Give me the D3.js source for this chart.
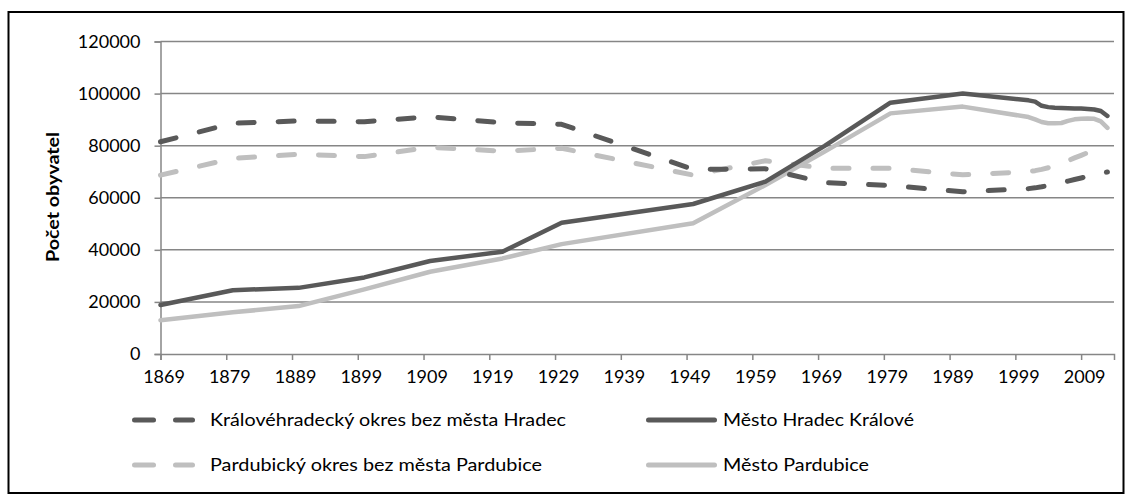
<!DOCTYPE html>
<html><head><meta charset="utf-8">
<script src="https://cdn.jsdelivr.net/npm/d3@7"></script>
<style>
html,body{margin:0;padding:0;background:#fff;}
svg{display:block;font-family:Lato,"Open Sans",sans-serif;}
</style></head>
<body><svg id="chart" width="1132" height="500"></svg>
<script>
// ---- data ----
const years = [1869,1880,1890,1900,1910,1921,1930,1950,1961,1970,1980,1991,2001,2002,2003,2004,2005,2006,2007,2008,2009,2010,2011,2012,2013];
const khOkres = [81500,88600,89500,89200,91100,88800,88200,70900,71100,65800,64700,62300,63500,63800,64200,64700,65200,65800,66400,67000,67600,68200,68800,69400,69900];
const hradec = [18800,24500,25400,29400,35700,39300,50400,57600,66200,79900,96500,100000,97400,96900,95300,94800,94600,94500,94400,94300,94300,94100,93900,93300,91400];
const paOkres = [68700,75100,76700,75800,79400,77900,79000,68700,74200,71300,71300,68800,70000,70400,70900,71500,72300,73200,74200,75300,76300,77300,78100,78800,79400];
const pardubice = [13000,16000,18400,24800,31600,36700,42200,50200,64900,77700,92400,95000,91000,90100,89100,88600,88600,88700,89500,90100,90300,90400,90300,89300,86800];
const xTicks = [1869,1879,1889,1899,1909,1919,1929,1939,1949,1959,1969,1979,1989,1999,2009];
const yTicks = [0,20000,40000,60000,80000,100000,120000];
const seriesNames = ["Královéhradecký okres bez města Hradec","Město Hradec Králové","Pardubický okres bez města Pardubice","Město Pardubice"];
const yTitle = "Počet obyvatel";

const dark = "#595959", light = "#BFBFBF", grid = "#868686";
const series = [
  {name: seriesNames[0], values: khOkres, color: dark, dashed: true},
  {name: seriesNames[1], values: hradec, color: dark, dashed: false},
  {name: seriesNames[2], values: paOkres, color: light, dashed: true},
  {name: seriesNames[3], values: pardubice, color: light, dashed: false}
];

const svg = d3.select("#chart");
// outer border
svg.append("rect").attr("x",8.5).attr("y",12).attr("width",1115).attr("height",481)
  .attr("fill","none").attr("stroke","#000").attr("stroke-width",2);

const x = d3.scaleLinear().domain([1869, 2014]).range([160.5, 1114]);
const y = d3.scaleLinear().domain([0, 120000]).range([354, 41.5]);

// gridlines
svg.append("g").selectAll("line").data(yTicks.filter(d=>d>0)).join("line")
  .attr("x1", x(1869)).attr("x2", x(2014))
  .attr("y1", d=>y(d)).attr("y2", d=>y(d))
  .attr("stroke", grid).attr("stroke-width", 1.5);

// y axis
const yAxis = svg.append("g").attr("transform", `translate(${x(1869)},0)`)
  .call(d3.axisLeft(y).tickValues(yTicks).tickSize(6).tickPadding(14).tickFormat(d3.format("d")));
yAxis.select(".domain").attr("stroke", grid).attr("stroke-width", 1.5);
yAxis.selectAll(".tick line").attr("stroke", grid).attr("stroke-width", 1.5);
yAxis.selectAll("text").attr("font-size", 18).attr("fill","#000").attr("font-family","Lato, sans-serif");

// x axis
const xAxis = svg.append("g").attr("transform", `translate(0,${y(0)})`)
  .call(d3.axisBottom(x).tickValues(xTicks).tickSize(6).tickPadding(10).tickFormat(d3.format("d")));
xAxis.select(".domain").attr("stroke", grid).attr("stroke-width", 1.5);
xAxis.selectAll(".tick line").attr("stroke", grid).attr("stroke-width", 1.5);
xAxis.selectAll("text").attr("font-size", 18).attr("fill","#000").attr("font-family","Lato, sans-serif")
  .attr("dx", 3);

// y title
svg.append("text").attr("transform", "translate(59,197) rotate(-90)")
  .attr("text-anchor","middle").attr("font-weight","bold").attr("font-size",16.5)
  .attr("textLength",130).attr("lengthAdjust","spacingAndGlyphs")
  .text(yTitle);

// lines
const line = d3.line().x((d,i)=>x(years[i])).y(d=>y(d));
const order = [3,2,0,1];
order.forEach(k=>{
  const s = series[k];
  svg.append("path").datum(s.values).attr("d", line)
    .attr("fill","none").attr("stroke", s.color)
    .attr("stroke-width", s.dashed ? 5 : 4.5)
    .attr("stroke-linejoin","round").attr("stroke-linecap","round")
    .attr("stroke-dasharray", s.dashed ? "16,24" : null);
});

// legend
const legendPos = [[132,420],[646,420],[132,465],[646,465]];
const textLen = [356,191,332,146];
series.forEach((s,i)=>{
  const [lx,ly] = legendPos[i];
  const g = svg.append("g");
  if (s.dashed) {
    [[0,24],[41,63]].forEach(([a,b])=>{
      g.append("line").attr("x1",lx+a+2.5).attr("x2",lx+b-2.5).attr("y1",ly).attr("y2",ly)
        .attr("stroke",s.color).attr("stroke-width",5).attr("stroke-linecap","round");
    });
  } else {
    g.append("line").attr("x1",lx+2.5).attr("x2",lx+71-2.5).attr("y1",ly).attr("y2",ly)
      .attr("stroke",s.color).attr("stroke-width",5).attr("stroke-linecap","round");
  }
  g.append("text").attr("x", s.dashed ? lx+78 : lx+77).attr("y", ly).attr("dy","0.35em")
    .attr("font-size",17).attr("fill","#000")
    .attr("textLength", textLen[i]).attr("lengthAdjust","spacingAndGlyphs")
    .text(s.name);
});
</script></body></html>
